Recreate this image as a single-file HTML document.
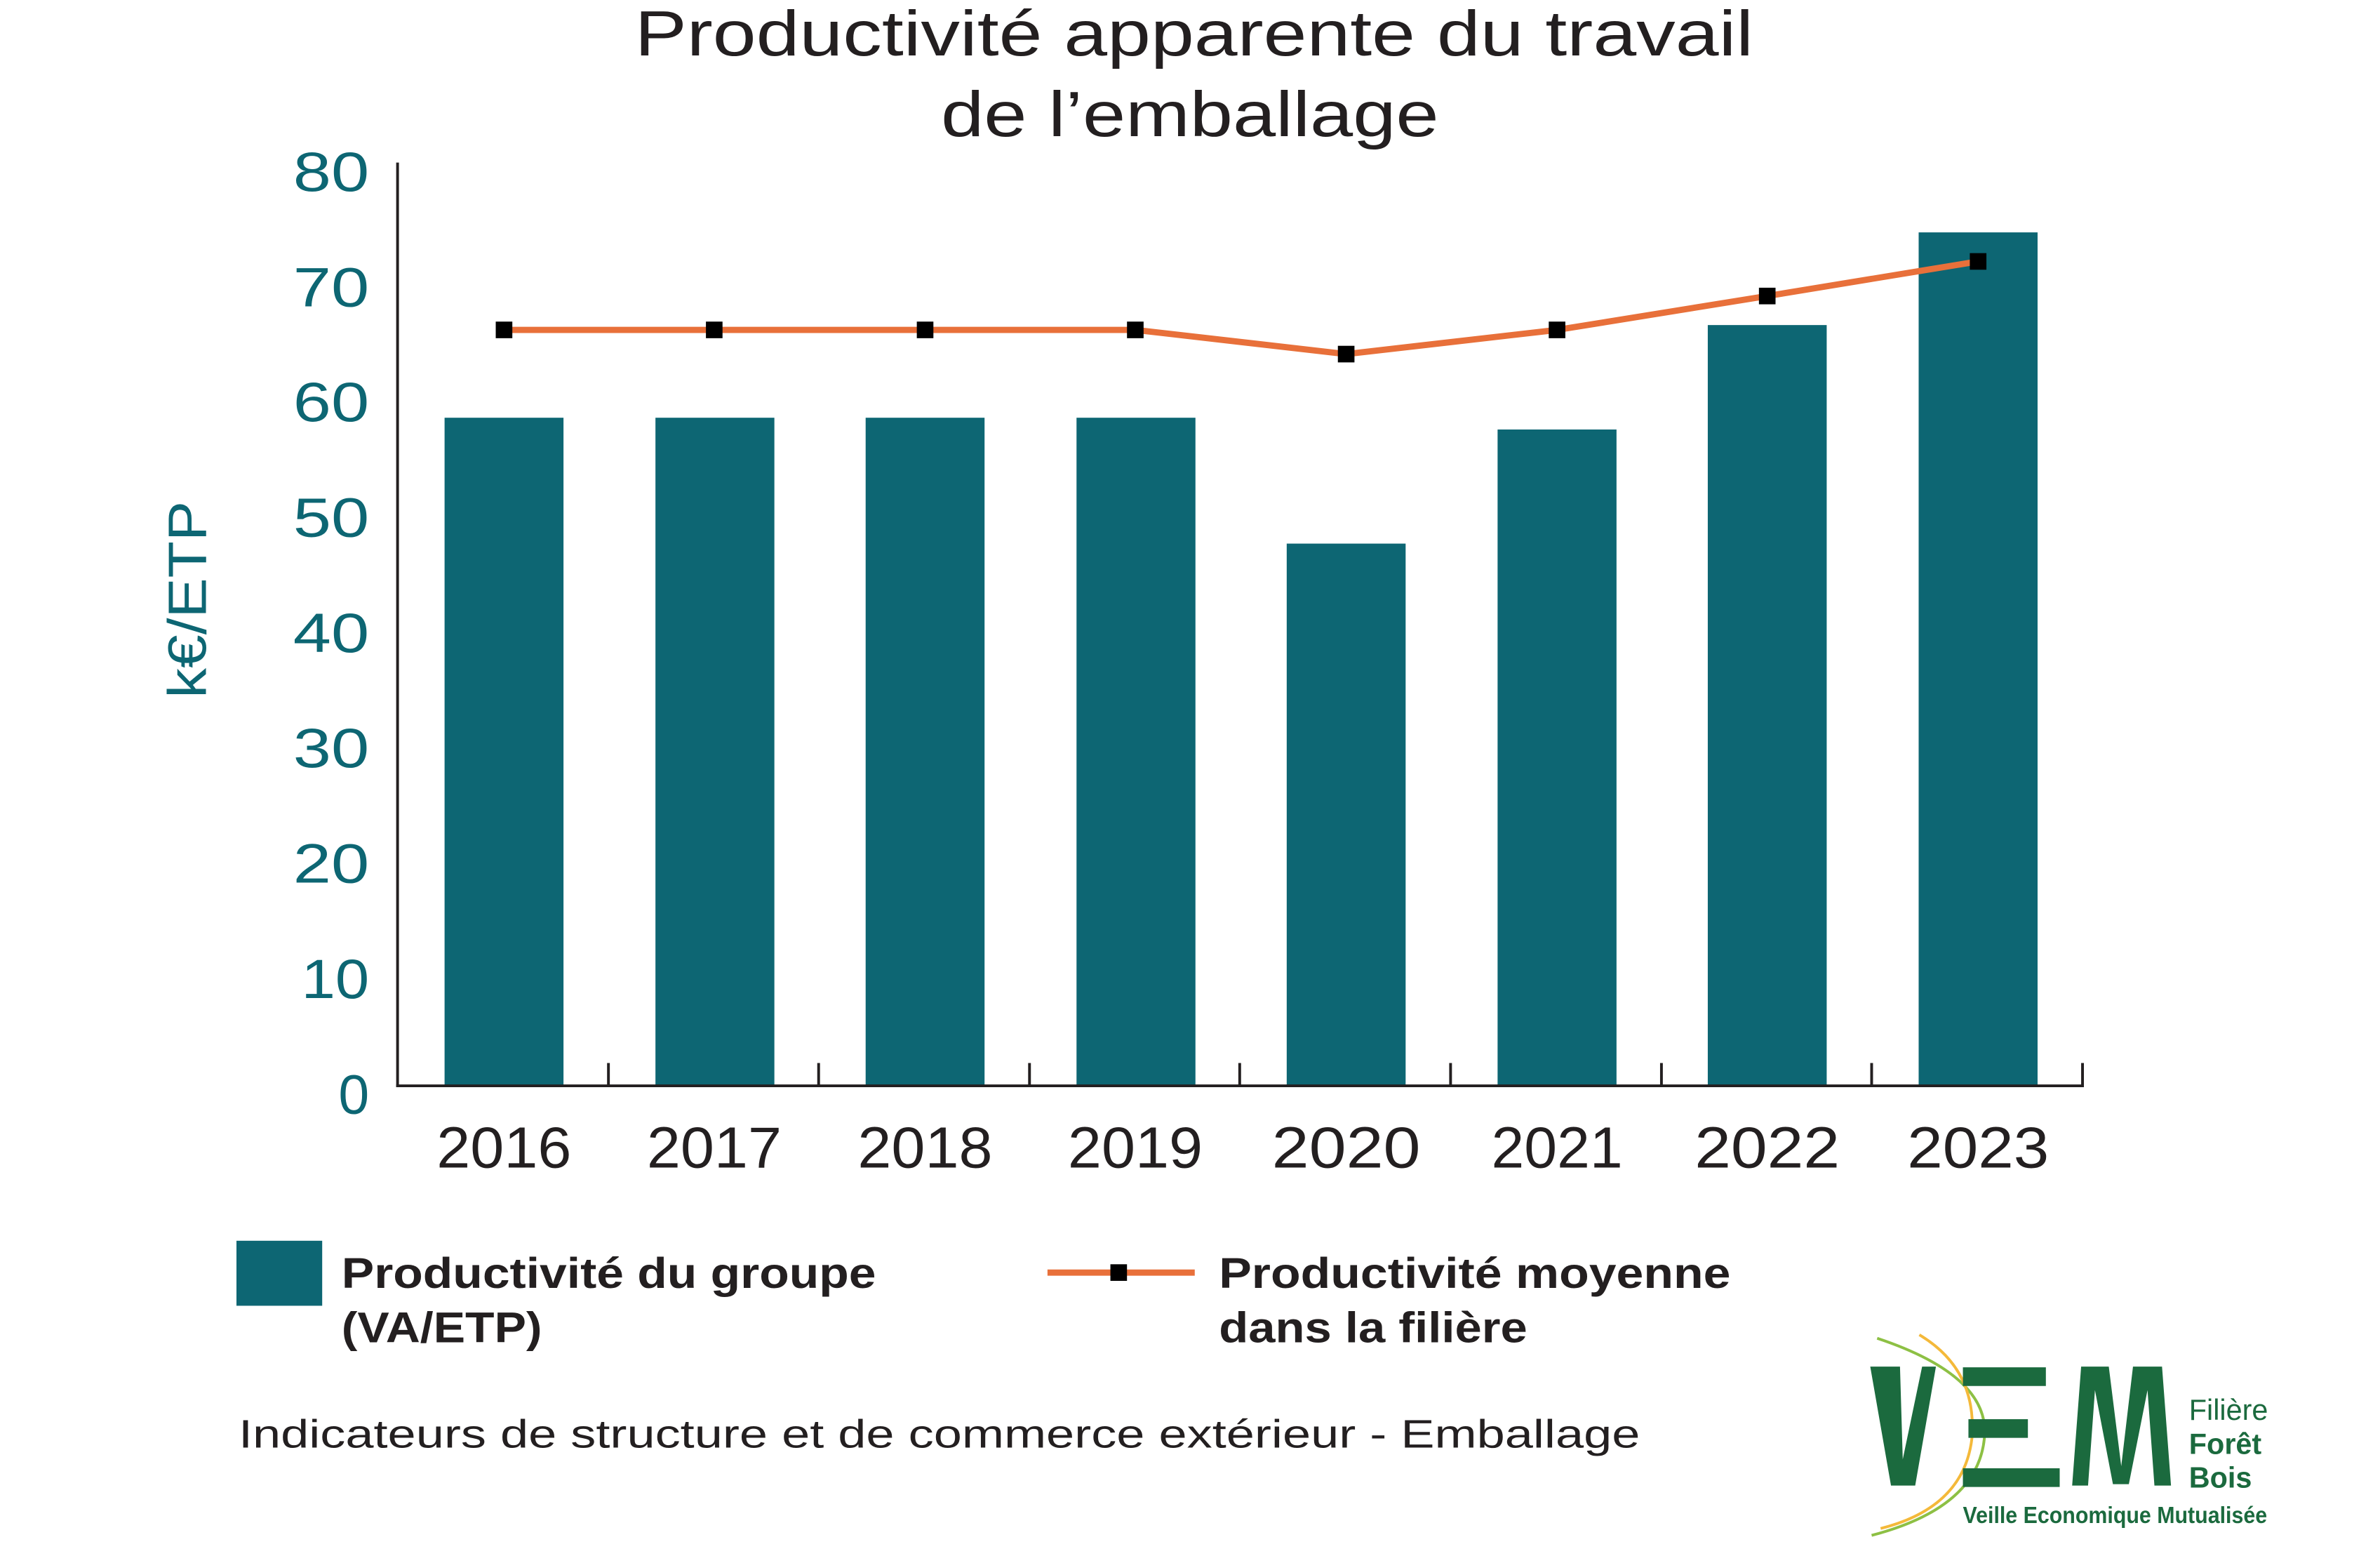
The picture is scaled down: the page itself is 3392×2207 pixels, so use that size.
<!DOCTYPE html>
<html><head><meta charset="utf-8"><style>html,body{margin:0;padding:0;background:#fff}svg{display:block}</style></head>
<body>
<svg width="3392" height="2207" viewBox="0 0 3392 2207" xmlns="http://www.w3.org/2000/svg" font-family="Liberation Sans, sans-serif">
<rect width="3392" height="2207" fill="#fff"/>
<g transform="scale(0.9854)">
<text x="1727" y="80" font-size="92" fill="#231f20" text-anchor="middle" textLength="1618" lengthAdjust="spacingAndGlyphs">Productivité apparente du travail</text>
<text x="1721" y="197" font-size="92" fill="#231f20" text-anchor="middle" textLength="720" lengthAdjust="spacingAndGlyphs">de l’emballage</text>
<g fill="#0d6673">
<rect x="643" y="604" width="172" height="966"/>
<rect x="948" y="604" width="172" height="966"/>
<rect x="1252" y="604" width="172" height="966"/>
<rect x="1557" y="604" width="172" height="966"/>
<rect x="1861" y="786" width="172" height="784"/>
<rect x="2166" y="621" width="172" height="949"/>
<rect x="2470" y="470" width="172" height="1100"/>
<rect x="2775" y="336" width="172" height="1234"/>
</g>
<g stroke="#231f20" stroke-width="4" fill="none">
<line x1="575" y1="235" x2="575" y2="1572"/>
<line x1="573" y1="1570" x2="3014" y2="1570"/>
<line x1="880" y1="1537" x2="880" y2="1570"/><line x1="1184" y1="1537" x2="1184" y2="1570"/>
<line x1="1489" y1="1537" x2="1489" y2="1570"/><line x1="1793" y1="1537" x2="1793" y2="1570"/>
<line x1="2098" y1="1537" x2="2098" y2="1570"/><line x1="2403" y1="1537" x2="2403" y2="1570"/>
<line x1="2707" y1="1537" x2="2707" y2="1570"/><line x1="3012" y1="1537" x2="3012" y2="1570"/>
</g>
<polyline points="729,477 1033,477 1338,477 1642,477 1947,512 2252,477 2556,428 2861,378" fill="none" stroke="#e8703a" stroke-width="9" stroke-linejoin="round"/>
<g fill="#000">
<rect x="717" y="465" width="24" height="24"/><rect x="1021" y="465" width="24" height="24"/>
<rect x="1326" y="465" width="24" height="24"/><rect x="1630" y="465" width="24" height="24"/>
<rect x="1935" y="500" width="24" height="24"/><rect x="2240" y="465" width="24" height="24"/>
<rect x="2544" y="416" width="24" height="24"/><rect x="2849" y="366" width="24" height="24"/>
</g>
<g font-size="80" fill="#0d6673" text-anchor="end">
<text x="534" y="276" textLength="110" lengthAdjust="spacingAndGlyphs">80</text><text x="534" y="443" textLength="110" lengthAdjust="spacingAndGlyphs">70</text><text x="534" y="609" textLength="110" lengthAdjust="spacingAndGlyphs">60</text>
<text x="534" y="776" textLength="110" lengthAdjust="spacingAndGlyphs">50</text><text x="534" y="943" textLength="110" lengthAdjust="spacingAndGlyphs">40</text><text x="534" y="1109" textLength="110" lengthAdjust="spacingAndGlyphs">30</text>
<text x="534" y="1276" textLength="110" lengthAdjust="spacingAndGlyphs">20</text><text x="534" y="1443" textLength="98" lengthAdjust="spacingAndGlyphs">10</text><text x="534" y="1610">0</text>
</g>
<text transform="translate(298,867) rotate(-90)" font-size="78" fill="#0d6673" text-anchor="middle" textLength="285" lengthAdjust="spacingAndGlyphs">k€/ETP</text>
<g font-size="84" fill="#231f20" text-anchor="middle">
<text x="729" y="1688" textLength="195" lengthAdjust="spacingAndGlyphs">2016</text><text x="1033" y="1688" textLength="195" lengthAdjust="spacingAndGlyphs">2017</text><text x="1338" y="1688" textLength="195" lengthAdjust="spacingAndGlyphs">2018</text>
<text x="1642" y="1688" textLength="195" lengthAdjust="spacingAndGlyphs">2019</text><text x="1947" y="1688" textLength="215" lengthAdjust="spacingAndGlyphs">2020</text><text x="2252" y="1688" textLength="190" lengthAdjust="spacingAndGlyphs">2021</text>
<text x="2556" y="1688" textLength="210" lengthAdjust="spacingAndGlyphs">2022</text><text x="2861" y="1688" textLength="205" lengthAdjust="spacingAndGlyphs">2023</text>
</g>
<rect x="342" y="1794" width="124" height="94" fill="#0d6673"/>
<g font-size="62" font-weight="bold" fill="#231f20" lengthAdjust="spacingAndGlyphs">
<text x="494" y="1862" textLength="773" lengthAdjust="spacingAndGlyphs">Productivité du groupe</text>
<text x="494" y="1941" textLength="290" lengthAdjust="spacingAndGlyphs">(VA/ETP)</text>
<text x="1763" y="1862" textLength="740" lengthAdjust="spacingAndGlyphs">Productivité moyenne</text>
<text x="1763" y="1941" textLength="446" lengthAdjust="spacingAndGlyphs">dans la filière</text>
</g>
<line x1="1515" y1="1840" x2="1728" y2="1840" stroke="#e8703a" stroke-width="9"/>
<rect x="1606" y="1828" width="24" height="24" fill="#000"/>
<text x="345" y="2093" font-size="57" fill="#231f20" textLength="2027" lengthAdjust="spacingAndGlyphs">Indicateurs de structure et de commerce extérieur - Emballage</text>
<g>
<path d="M2715,1935 Q2880,1990 2870,2080 Q2860,2180 2707,2220" fill="none" stroke="#8dc044" stroke-width="4"/>
<path d="M2776,1930 Q2860,1980 2852,2080 Q2840,2180 2720,2210" fill="none" stroke="#f4b93a" stroke-width="4"/>
<polygon points="2705,1976 2748,1976 2752,2110 2780,1976 2800,1976 2770,2148 2735,2148" fill="#1b6a3e"/>
<rect x="2839" y="1977" width="120" height="27" fill="#1b6a3e"/>
<rect x="2847" y="2052" width="86" height="27" fill="#1b6a3e"/>
<rect x="2839" y="2123" width="140" height="27" fill="#1b6a3e"/>
<polygon points="2997,2148 3010,1976 3050,1976 3068,2120 3085,1976 3127,1976 3140,2148 3116,2148 3106,2010 3079,2146 3056,2146 3030,2010 3020,2148" fill="#1b6a3e"/>
<g fill="#1b6a3e" font-size="42">
<text x="3166" y="2053">Filière</text>
<text x="3166" y="2102" font-weight="bold">Forêt</text>
<text x="3166" y="2151" font-weight="bold">Bois</text>
<text x="2839" y="2202" font-size="34" font-weight="bold" textLength="440" lengthAdjust="spacingAndGlyphs">Veille Economique Mutualisée</text>
</g>
</g>
</g>
</svg>
</body></html>
